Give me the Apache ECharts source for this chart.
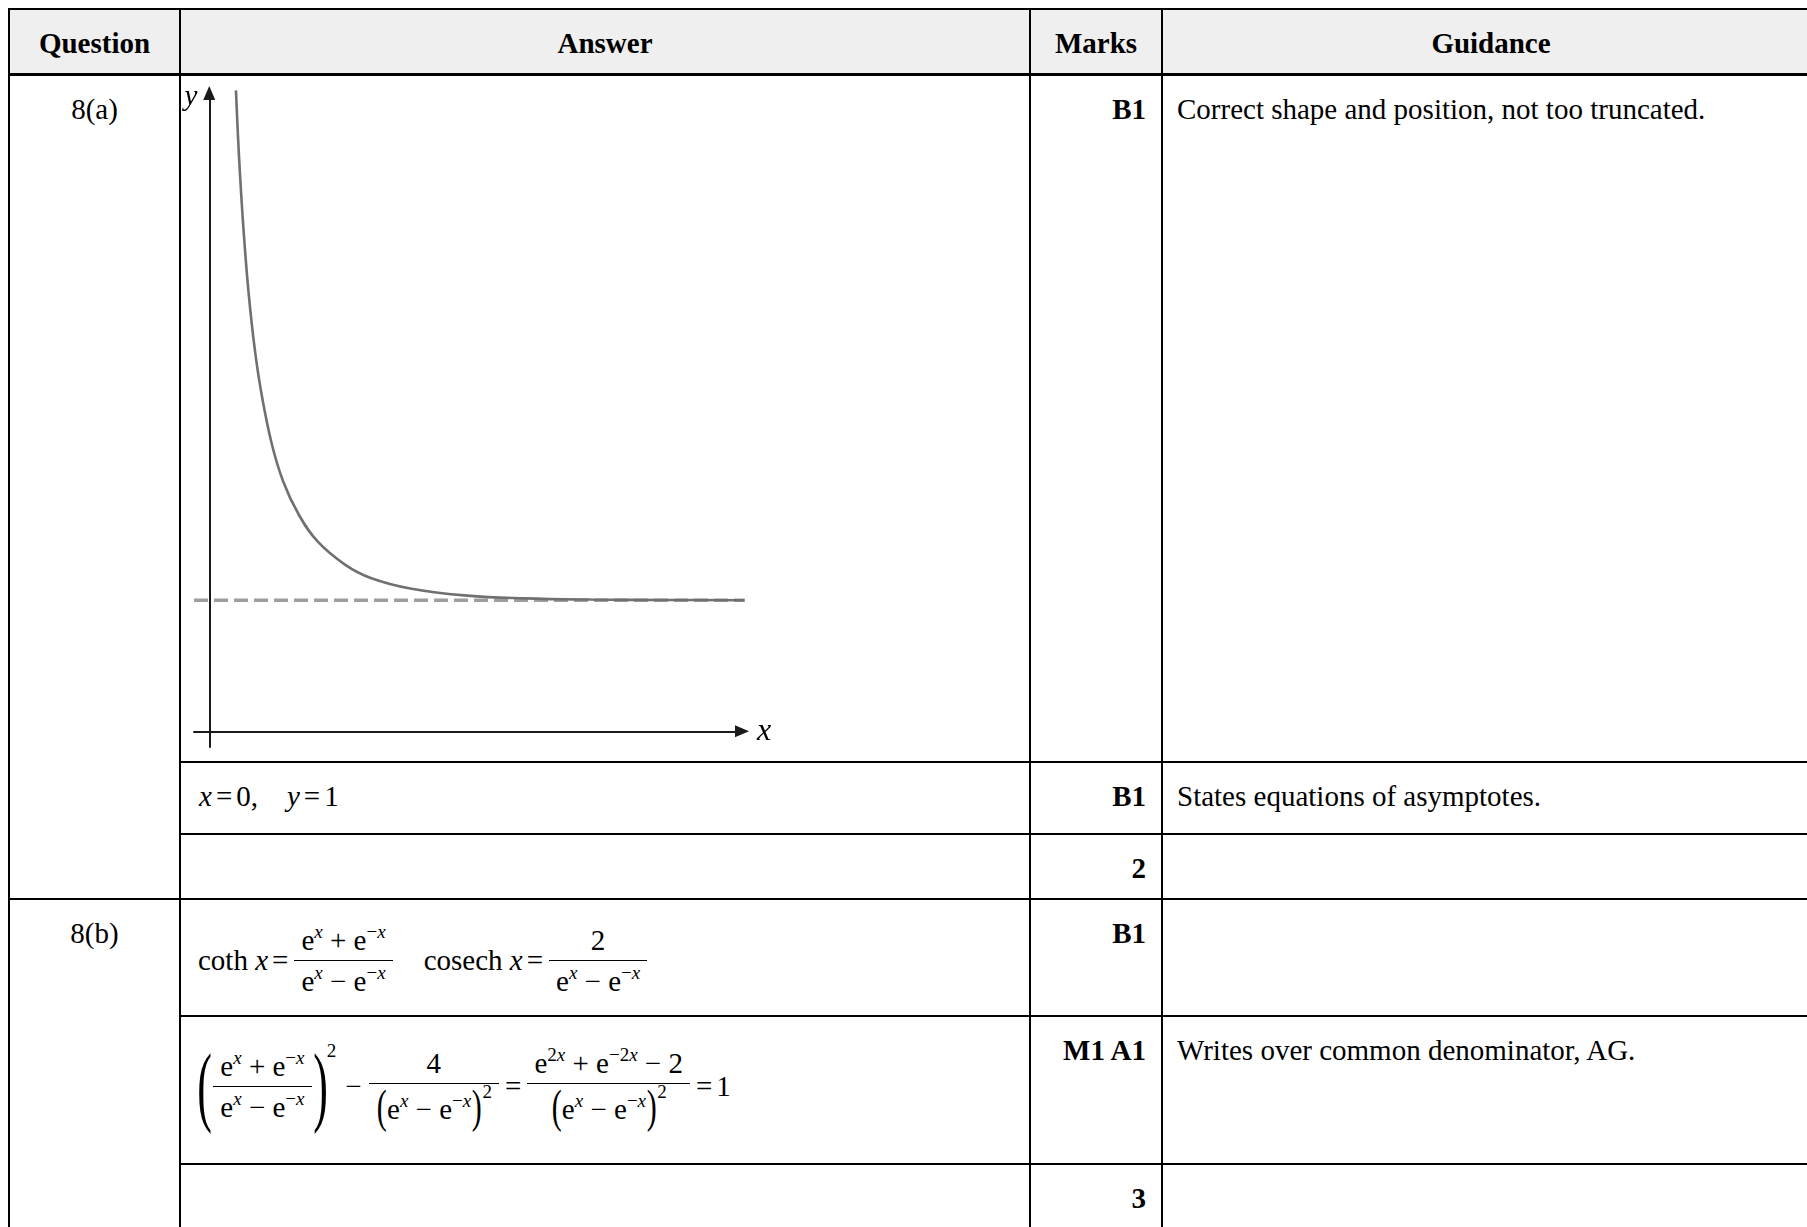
<!DOCTYPE html>
<html>
<head>
<meta charset="utf-8">
<title>Question 8 – coth x</title>
<script src="https://cdn.jsdelivr.net/npm/echarts@6/dist/echarts.min.js"></script>
<style>
  html, body { margin: 0; padding: 0; background: #fff; }
  body {
    width: 1807px; height: 1227px; overflow: hidden; position: relative;
    font-family: 'Liberation Serif', 'Times New Roman', serif; font-size: 29px; color: #000;
  }
  /* mark scheme table */
  .ms {
    position: absolute; left: 8px; top: 8px; display: grid;
    grid-template-columns: 171px 850px 132px 658px;
    grid-template-rows: 66px 687px 72px 65px 117px 148px 80px;
    border-top: 2px solid #000; border-left: 2px solid #000;
  }
  .ms > div {
    box-sizing: border-box; border-right: 2px solid #000; border-bottom: 2px solid #000;
    padding: 17px 16px 0 16px; line-height: 33px; white-space: nowrap;
  }
  .ms > .hd { background: #efefef; font-weight: bold; text-align: center; border-bottom-width: 3px; padding-top: 17px; }
  .ms > .q { text-align: center; grid-row: span 3; }
  .ms > .ans { padding-left: 18px; }
  .ms > .mk { text-align: right; font-weight: bold; padding-right: 15px; }
  .ms > .gd { padding-left: 14px; }
  .ms > .fx { display: flex; align-items: center; padding-top: 6px; padding-left: 17px; }
  .ms > .fx.tall { padding-top: 0; padding-bottom: 8px; }

  /* maths */
  .m { font-size: 29px; display: inline-flex; align-items: center; }
  .m i { font-style: italic; }
  .m sup { font-size: 19px; line-height: 0; vertical-align: 0.62em; }
  .m sup.hi { vertical-align: 1.1em; }
  .op { margin: 0 4px; }
  .mi { margin: 0 5px 0 9px; }
  .frac { display: inline-flex; flex-direction: column; text-align: center; margin: 0 2px; }
  .frac .n { border-bottom: 1.5px solid #000; padding: 0 7px 3px; line-height: 34px; }
  .frac .d { padding: 3px 7px 0; line-height: 34px; }
  .bp { display: inline-block; font-size: 88px; line-height: 88px; transform: scaleX(0.5); margin: 0 -8px; }
  .sp { display: inline-block; font-size: 46px; line-height: 40px; transform: scaleX(0.65); margin: 0 -2px; vertical-align: -3px; }
  .pw { position: relative; top: -36px; font-size: 19px; }

  #graph { position: absolute; left: 0; top: 0; width: 1807px; height: 1227px; z-index: 2; pointer-events: none; }
</style>
</head>
<body>
<div class="ms">
  <div class="hd">Question</div>
  <div class="hd">Answer</div>
  <div class="hd">Marks</div>
  <div class="hd">Guidance</div>

  <div class="q">8(a)</div>
  <div class="ans"></div>
  <div class="mk">B1</div>
  <div class="gd">Correct shape and position, not too truncated.</div>

  <div class="ans"><span class="m"><i>x</i><span class="op">=</span>0,&nbsp;&nbsp;&nbsp;&nbsp;<i>y</i><span class="op">=</span>1</span></div>
  <div class="mk">B1</div>
  <div class="gd">States equations of asymptotes.</div>

  <div class="ans"></div>
  <div class="mk">2</div>
  <div class="gd"></div>

  <div class="q">8(b)</div>
  <div class="fx"><span class="m">coth&nbsp;<i>x</i><span class="op">=</span><span class="frac"><span class="n">e<sup><i>x</i></sup> + e<sup>−<i>x</i></sup></span><span class="d">e<sup><i>x</i></sup> − e<sup>−<i>x</i></sup></span></span>&nbsp;&nbsp;&nbsp;&nbsp;cosech&nbsp;<i>x</i><span class="op">=</span><span class="frac"><span class="n">2</span><span class="d">e<sup><i>x</i></sup> − e<sup>−<i>x</i></sup></span></span></span></div>
  <div class="mk">B1</div>
  <div class="gd"></div>

  <div class="fx tall"><span class="m"><span class="bp">(</span><span class="frac"><span class="n">e<sup><i>x</i></sup> + e<sup>−<i>x</i></sup></span><span class="d">e<sup><i>x</i></sup> − e<sup>−<i>x</i></sup></span></span><span class="bp">)</span><span class="pw">2</span><span class="mi">−</span><span class="frac"><span class="n">4</span><span class="d"><span class="sp">(</span>e<sup><i>x</i></sup> − e<sup>−<i>x</i></sup><span class="sp">)</span><sup class="hi">2</sup></span></span><span class="op">=</span><span class="frac"><span class="n">e<sup>2<i>x</i></sup> + e<sup>−2<i>x</i></sup> − 2</span><span class="d"><span class="sp">(</span>e<sup><i>x</i></sup> − e<sup>−<i>x</i></sup><span class="sp">)</span><sup class="hi">2</sup></span></span><span class="op">=</span>1</span></div>
  <div class="mk">M1 A1</div>
  <div class="gd">Writes over common denominator, AG.</div>

  <div class="ans"></div>
  <div class="mk">3</div>
  <div class="gd"></div>
</div>

<div id="graph"></div>

<script>
const curveX = [0.21, 0.225, 0.24, 0.27, 0.31, 0.36, 0.41, 0.49, 0.58, 0.70, 0.85, 1.07, 1.27, 1.58, 2.03, 2.48, 3.0, 3.6, 4.23];
const curveY = [4.89, 4.56, 4.28, 3.82, 3.34, 2.90, 2.58, 2.20, 1.91, 1.66, 1.45, 1.27, 1.17, 1.09, 1.035, 1.014, 1.005, 1.002, 1.0];

// horizontal asymptote y = 1
const asymptoteX = [-0.12, 4.23];
const asymptoteY = [1, 1];

const axisNames = ['x', 'y'];

const nameStyle = {
  fontFamily: 'Liberation Serif',
  fontStyle: 'italic',
  color: '#000'
};

const chart = echarts.init(document.getElementById('graph'));

chart.setOption({
  animation: false,
  grid: { left: 194, top: 93, width: 548, height: 654 },
  xAxis: {
    type: 'value',
    min: -0.12,
    max: 4.19,
    name: axisNames[0],
    nameLocation: 'end',
    nameGap: 15,
    nameTextStyle: Object.assign({ fontSize: 32, verticalAlign: 'middle' }, nameStyle),
    axisLine: {
      onZero: true,
      symbol: ['none', 'triangle'],
      symbolSize: [12, 14],
      lineStyle: { color: '#1a1a1a', width: 2 }
    },
    axisTick: { show: false },
    axisLabel: { show: false },
    splitLine: { show: false }
  },
  yAxis: {
    type: 'value',
    min: -0.12,
    max: 4.87,
    name: axisNames[1],
    nameLocation: 'end',
    nameGap: -4,
    nameTextStyle: Object.assign({ fontSize: 29, align: 'right', verticalAlign: 'middle', padding: [0, 12, 0, 0] }, nameStyle),
    axisLine: {
      onZero: true,
      symbol: ['none', 'triangle'],
      symbolSize: [12, 14],
      lineStyle: { color: '#1a1a1a', width: 2 }
    },
    axisTick: { show: false },
    axisLabel: { show: false },
    splitLine: { show: false }
  },
  series: [
    {
      type: 'line',
      data: asymptoteX.map((x, i) => [x, asymptoteY[i]]),
      symbol: 'none',
      clip: false,
      silent: true,
      z: 1,
      lineStyle: { color: '#9e9e9e', width: 3.5, type: [14, 6] }
    },
    {
      type: 'line',
      data: curveX.map((x, i) => [x, curveY[i]]),
      smooth: 0.4,
      symbol: 'none',
      clip: false,
      silent: true,
      z: 2,
      lineStyle: { color: '#707070', width: 2.6 }
    }
  ]
});
</script>
</body>
</html>
